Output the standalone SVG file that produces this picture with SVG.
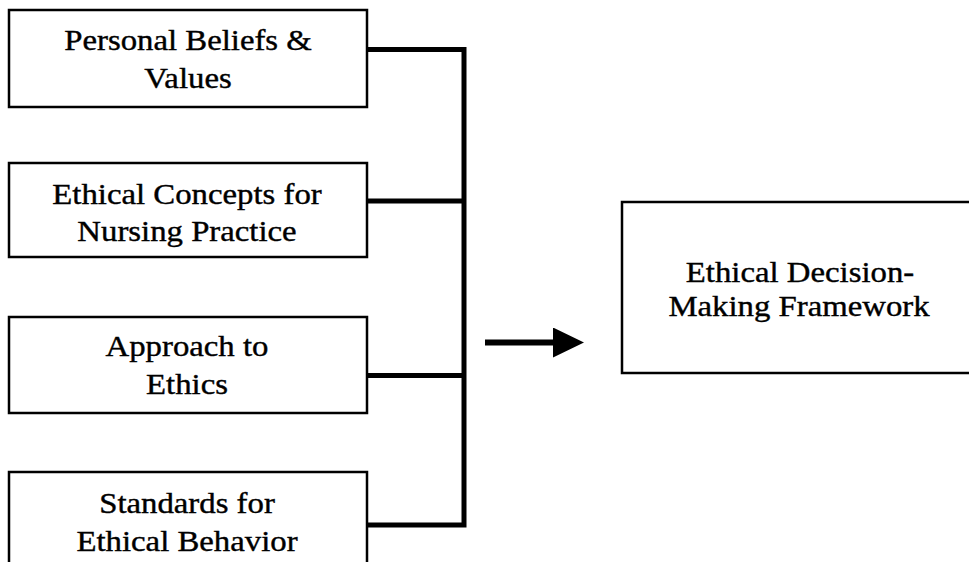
<svg xmlns="http://www.w3.org/2000/svg" width="969" height="562" viewBox="0 0 969 562">
  <style>
    .box { fill: #ffffff; stroke: #000000; stroke-width: 2.5; }
    .lbl { font-family: "Liberation Serif", "Times New Roman", serif; font-size: 30px; fill: #000000; stroke: #000000; stroke-width: 0.4; text-anchor: middle; }
    .conn { fill: none; stroke: #000000; stroke-width: 5; stroke-linecap: butt; stroke-linejoin: miter; }
  </style>
  <defs>
    <marker id="arrowhead" markerUnits="userSpaceOnUse" markerWidth="31" markerHeight="30" refX="0" refY="15" orient="auto">
      <polygon points="0,0 31,15 0,30" fill="#000000"/>
    </marker>
  </defs>
  <rect width="969" height="562" fill="#ffffff"/>

  <g id="connectors">
    <path class="conn" d="M367,49.5 H464 M367,201 H464 M367,375.5 H464 M367,525 H464 M464,47 V527.5"/>
    <line x1="485" y1="342.5" x2="553" y2="342.5" stroke="#000000" stroke-width="6" marker-end="url(#arrowhead)"/>
  </g>

  <g id="personal-beliefs">
    <rect class="box" x="9" y="10" width="358" height="97"/>
    <text class="lbl" transform="translate(188,50) scale(1.093,1)">Personal Beliefs &amp;</text>
    <text class="lbl" transform="translate(188,88) scale(1.093,1)">Values</text>
  </g>

  <g id="ethical-concepts">
    <rect class="box" x="9" y="163" width="358" height="94"/>
    <text class="lbl" transform="translate(187,204) scale(1.093,1)">Ethical Concepts for</text>
    <text class="lbl" transform="translate(187,241) scale(1.093,1)">Nursing Practice</text>
  </g>

  <g id="approach">
    <rect class="box" x="9" y="317" width="358" height="96"/>
    <text class="lbl" transform="translate(187,356) scale(1.093,1)">Approach to</text>
    <text class="lbl" transform="translate(187,394) scale(1.093,1)">Ethics</text>
  </g>

  <g id="standards">
    <rect class="box" x="9" y="472" width="358" height="110"/>
    <text class="lbl" transform="translate(187,513) scale(1.093,1)">Standards for</text>
    <text class="lbl" transform="translate(187,551) scale(1.093,1)">Ethical Behavior</text>
  </g>

  <g id="framework">
    <rect class="box" x="622" y="202" width="370" height="171"/>
    <text class="lbl" transform="translate(800,282) scale(1.093,1)">Ethical Decision-</text>
    <text class="lbl" transform="translate(799,316) scale(1.093,1)">Making Framework</text>
  </g>
</svg>
